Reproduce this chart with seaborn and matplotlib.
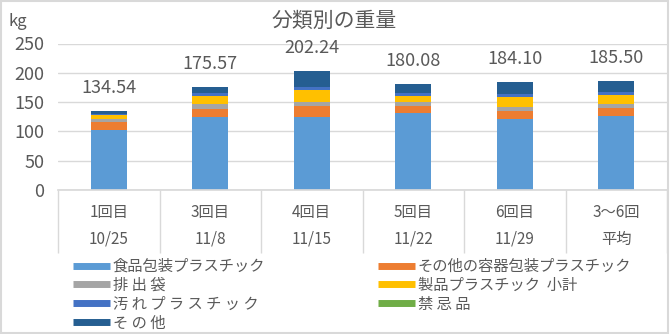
import numpy as np
import pandas as pd
import matplotlib
matplotlib.use("Agg")
import matplotlib.pyplot as plt
from matplotlib.lines import Line2D
from matplotlib.patches import Rectangle
import seaborn as sns

# ---- data ----
sessions = ["1回目", "3回目", "4回目", "5回目", "6回目", "3～6回"]
dates = ["10/25", "11/8", "11/15", "11/22", "11/29", "平均"]
series_names = ["食品包装プラスチック", "その他の容器包装プラスチック", "排 出 袋",
                "製品プラスチック  小計", "汚 れ プ ラ ス チ ッ ク", "禁 忌 品", "そ の 他"]
food_pkg = [103.0, 124.0, 125.0, 132.0, 121.0, 125.5]
other_pkg = [13.0, 14.0, 19.0, 12.0, 14.0, 14.75]
bags = [5.0, 8.0, 7.0, 5.5, 7.0, 6.88]
products = [7.0, 15.0, 19.0, 11.0, 17.0, 15.5]
dirty = [1.5, 4.0, 6.0, 5.0, 5.0, 5.0]
forbidden = [0.0, 0.0, 0.0, 0.0, 0.0, 0.0]
others = [5.04, 10.57, 26.24, 14.58, 20.10, 17.87]
totals = [134.54, 175.57, 202.24, 180.08, 184.10, 185.50]
colors = ["#5B9BD5", "#ED7D31", "#A5A5A5", "#FFC000", "#4472C4", "#70AD47", "#255E91"]

sns.set_theme(style="white")
plt.rcParams["font.family"] = ["Noto Sans CJK JP", "DejaVu Sans"]
TXT = "#595959"
GRID = "#D9D9D9"

xlabels = [f"{s}\n{d}" for s, d in zip(sessions, dates)]
values = [food_pkg, other_pkg, bags, products, dirty, forbidden, others]
cum = np.cumsum(np.array(values), axis=0)

fig = plt.figure(figsize=(6.7, 3.34), dpi=100)
ax = fig.add_axes([58 / 670, 1 - 190 / 334, 609 / 670, 146.5 / 334])

for i in range(len(values) - 1, -1, -1):
    df = pd.DataFrame({"cat": xlabels, "val": cum[i]})
    sns.barplot(data=df, x="cat", y="val", color=colors[i], saturation=1,
                width=0.357, ax=ax, order=xlabels, linewidth=0)

for j, t in enumerate(totals):
    ax.annotate(f"{t:.2f}", (j, cum[-1][j]), xytext=(0, 17), textcoords="offset points",
                ha="center", va="center", fontsize=13, color=TXT)

ax.set_xlim(-0.5, len(xlabels) - 0.5)
ax.set_ylim(0, 250)
ax.set_yticks(np.arange(0, 251, 50))
ax.set_xlabel("")
ax.set_ylabel("")
ax.yaxis.grid(True, color=GRID, lw=1)
ax.set_axisbelow(True)
for s in ["top", "right", "left"]:
    ax.spines[s].set_visible(False)
ax.spines["bottom"].set_color(GRID)
ax.tick_params(axis="y", length=0, pad=10, labelsize=13, labelcolor=TXT)
ax.set_xticks(np.arange(-0.5, len(xlabels), 1.0), minor=True)
ax.tick_params(axis="x", which="minor", bottom=True, length=45, color=GRID, width=1)
ax.tick_params(axis="x", which="major", bottom=False, length=0, pad=10, labelsize=11, labelcolor=TXT)
for lab in ax.get_xticklabels():
    lab.set_linespacing(1.75)

fig.text(8 / 670, 1 - 22 / 334, "kg", fontsize=12, color=TXT, va="center", ha="left")
fig.text(334 / 670, 1 - 21 / 334, "分類別の重量", fontsize=15, color=TXT, va="center", ha="center")

handles = [Line2D([0], [0], color=c, lw=5, solid_capstyle="butt") for c in colors]
left_idx = [0, 2, 4, 6]
right_idx = [1, 3, 5]
kw = dict(frameon=False, fontsize=11, labelcolor=TXT, handlelength=2.4, handletextpad=0.2,
          labelspacing=0.12, borderpad=0, borderaxespad=0, loc="upper left")
leg1 = fig.legend([handles[i] for i in left_idx], [series_names[i] for i in left_idx],
                  bbox_to_anchor=(73 / 670, 1 - 258 / 334), **kw)
leg2 = fig.legend([handles[i] for i in right_idx], [series_names[i] for i in right_idx],
                  bbox_to_anchor=(378 / 670, 1 - 258 / 334), **kw)

fig.patches.append(Rectangle((0.002, 0.003), 0.995, 0.993, transform=fig.transFigure,
                             fill=False, ec=GRID, lw=1.5))

fig.savefig("out.png", dpi=100)
